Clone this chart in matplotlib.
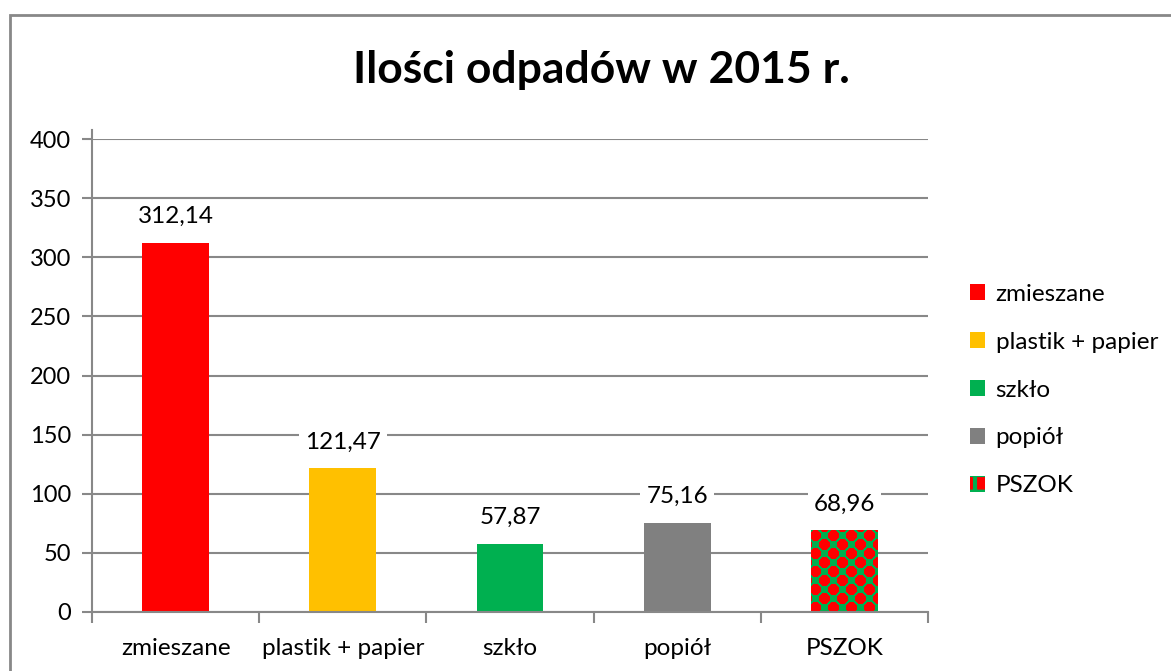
import numpy as np
import matplotlib.pyplot as plt
from matplotlib.patches import Rectangle, Patch
import matplotlib as mpl

categories = ["zmieszane", "plastik + papier", "szkło", "popiół", "PSZOK"]
values = [312.14, 121.47, 57.87, 75.16, 68.96]
labels = ["312,14", "121,47", "57,87", "75,16", "68,96"]
colors = ["#FF0000", "#FFC000", "#00B050", "#808080", "#00B050"]
yticks = [0, 50, 100, 150, 200, 250, 300, 350, 400]

plt.rcParams["font.family"] = ["Lato", "DejaVu Sans"]
mpl.rcParams["hatch.linewidth"] = 3
grid_col = "#888888"
RED, GREEN = np.array([1.0, 0, 0]), np.array([0, 0.69, 0.31])


def pattern_tile(cell=9):
    # red circles on a green checker, like the Excel pattern fill
    n = 2 * cell
    yy, xx = np.mgrid[0:n, 0:n] + 0.5
    img = np.tile(GREEN, (n, n, 1))
    for cx, cy in [(cell / 2, cell / 2), (1.5 * cell, 1.5 * cell)]:
        for dx in (-n, 0, n):
            for dy in (-n, 0, n):
                m = (xx - cx - dx) ** 2 + (yy - cy - dy) ** 2 <= (cell * 0.62) ** 2
                img[m] = RED
    return img


fig = plt.figure(figsize=(11.71, 6.71), dpi=100)
ax = fig.add_axes([92 / 1171, 1 - 612 / 671, 836 / 1171, (612 - 139) / 671])

x = range(len(categories))
ax.set_ylim(0, 400)
ax.set_xlim(-0.5, len(categories) - 0.5)
bars = ax.bar(x, values, width=0.4, color=colors, zorder=2, linewidth=0)

# PSZOK: tile the pattern image over the bar
b = bars[4]
(x0, y0), (x1, y1) = ax.transData.transform([(b.get_x(), 0), (b.get_x() + b.get_width(), b.get_height())])
tile = pattern_tile()
reps_x = int(np.ceil((x1 - x0) / tile.shape[1])) + 1
reps_y = int(np.ceil((y1 - y0) / tile.shape[0])) + 1
big = np.tile(tile, (reps_y, reps_x, 1))
w_px = reps_x * tile.shape[1]
h_px = reps_y * tile.shape[0]
ext_x1 = b.get_x() + b.get_width() * w_px / (x1 - x0)
ext_y1 = b.get_height() * h_px / (y1 - y0)
im = ax.imshow(big, extent=(b.get_x(), ext_x1, 0, ext_y1), origin="lower",
               interpolation="nearest", aspect="auto", zorder=2)
im.set_clip_path(b)
ax.set_ylim(0, 400)
ax.set_xlim(-0.5, len(categories) - 0.5)

for b, lab in zip(bars, labels):
    ax.annotate(lab, (b.get_x() + b.get_width() / 2, b.get_height()),
                xytext=(0, 19), textcoords="offset points", ha="center", va="center",
                fontsize=17.5, zorder=3,
                bbox=dict(boxstyle="square,pad=0.25", fc="white", ec="none"))

ax.set_yticks(yticks)
ax.yaxis.grid(True, color=grid_col, linewidth=1.5, zorder=0)
ax.set_axisbelow(True)

ax.set_xticks([i - 0.5 for i in range(len(categories) + 1)])
ax.set_xticklabels([])
ax.set_xticks(list(x), minor=True)
ax.set_xticklabels(categories, minor=True, fontsize=17.5)
ax.tick_params(axis="x", which="minor", length=0, pad=19)
ax.tick_params(axis="x", which="major", length=8, width=1.5, color=grid_col)
ax.tick_params(axis="y", length=7, width=1.5, color=grid_col, labelsize=17, pad=8)

for s in ["top", "right"]:
    ax.spines[s].set_visible(False)
for s in ["left", "bottom"]:
    ax.spines[s].set_color(grid_col)
    ax.spines[s].set_linewidth(1.5)
ax.spines["left"].set_bounds(0, 408)

fig.text(601 / 1171, 1 - 70 / 671, "Ilości odpadów w 2015 r.", ha="center", va="center",
         fontsize=32, fontweight="bold")

handles = [Patch(facecolor=c, edgecolor="none") for c in colors]
handles[4] = Patch(facecolor="#FF0000", edgecolor="#00B050", hatch="+", linewidth=0)
fig.legend(handles, categories, loc="center left", bbox_to_anchor=(970 / 1171, 1 - 390 / 671),
           frameon=False, fontsize=17.5, handlelength=0.6, handleheight=0.6,
           handletextpad=0.45, labelspacing=1.11, borderpad=0, borderaxespad=0)

fig.patches.append(Rectangle((9.5 / 1171, -0.1), 1.2, 1 - 14.5 / 671 + 0.1,
                             transform=fig.transFigure, fill=False, ec="#888888", lw=2))

fig.savefig("out.png", dpi=100)
